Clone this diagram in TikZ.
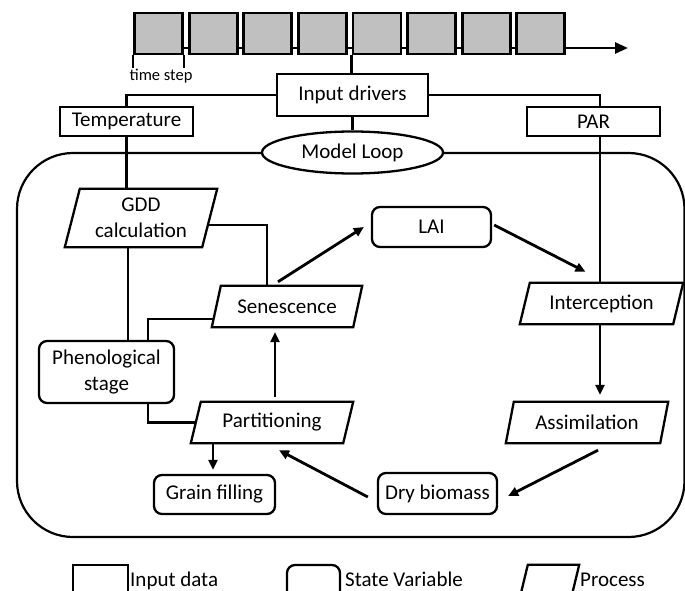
\documentclass[tikz,border=0pt]{standalone}
\usepackage{fontspec}
\setmainfont{Carlito}
\usetikzlibrary{arrows.meta,calc,shapes.geometric}
\definecolor{tgray}{RGB}{192,192,192}
\newcommand\procshape[2]{\draw[boxline] ([xshift=#2pt]#1.north west) -- (#1.north east) -- ([xshift=-#2pt]#1.south east) -- (#1.south west) -- cycle;}
\begin{document}
\begin{tikzpicture}[x=1pt,y=-1pt,
  txt/.style={font=\fontsize{21}{26.5}\selectfont},
  boxline/.style={line width=2.3pt,line join=miter},
  inbox/.style={txt,draw,line width=2.3pt,inner sep=0pt},
  statebox/.style={txt,draw,line width=2.3pt,inner sep=0pt,rounded corners=8pt},
  procbox/.style={txt,inner sep=0pt,align=center},
  tbox/.style={draw,line width=2.8pt,fill=tgray,minimum width=48pt,minimum height=41pt,inner sep=0pt},
  conn/.style={line width=2.3pt},
  arr/.style={line width=2.8pt,-{Triangle[length=10pt,width=9pt]}},
]
\useasboundingbox (0,0) rectangle (685,591);
\clip (0,0) rectangle (685,591);

% main loop frame
\draw[line width=2.2pt,rounded corners=56pt] (17,153) rectangle (684.5,537);

% time steps
\foreach \i [evaluate=\i as \cx using 158.5+54.6*(\i-1)] in {1,...,8}
  \node[tbox] (tb\i) at (\cx,33.5) {};
\foreach \i [evaluate=\i as \j using int(\i+1)] in {1,...,7}
  \draw[conn] ([yshift=-14.5pt]tb\i.east) -- ([yshift=-14.5pt]tb\j.west);
\coordinate (tend) at (628,48);
\draw[line width=2.6pt,-{Triangle[length=13pt,width=11pt]}] ([yshift=-14.5pt]tb8.east) -- (tend);
\node[font=\fontsize{16.5}{18}\selectfont,inner sep=0pt] (tstep) at (161,76) {time step};
\draw[line width=1.3pt] (tb1.south west) -- ++(0,13);
\draw[line width=1.3pt] (tb1.south east) -- ++(0,13);

% inputs
\node[inbox,minimum width=151pt,minimum height=42pt] (indr) at (352.5,95) {Input drivers};
\node[inbox,minimum width=133pt,minimum height=29pt] (temp) at (126.5,121.5) {Temperature};
\node[inbox,minimum width=133pt,minimum height=29pt] (par) at (593.5,121.5) {PAR};
\node[txt,draw,fill=white,line width=2.3pt,ellipse,minimum width=181pt,minimum height=42pt,inner sep=0pt] (loop) at (352.5,152.5) {Model Loop};

\draw[conn] (tb5.south west) -- (tb5.south west |- indr.north);
\draw[conn] (indr.west) -| (temp.north);
\draw[conn] (indr.east) -| ([xshift=6.5pt]par.north);
\draw[conn] (indr.south) -- (loop.north);

% processes
\node[procbox,minimum width=152pt,minimum height=58pt] (gdd) at (141,218) {GDD\\calculation};
\procshape{gdd}{15}
\node[procbox,minimum width=150pt,minimum height=41pt] (sen) at (287,306.5) {Senescence};
\procshape{sen}{9}
\node[procbox,minimum width=162pt,minimum height=41pt] (part) at (272,422.5) {Partitioning};
\procshape{part}{10}
\node[procbox,minimum width=163pt,minimum height=41pt] (int) at (601.5,303.5) {Interception};
\procshape{int}{10}
\node[procbox,minimum width=162pt,minimum height=41pt] (asm) at (587,422.5) {Assimilation};
\procshape{asm}{8}

% state variables
\node[statebox,minimum width=119pt,minimum height=40pt] (lai) at (431.5,227) {LAI};
\node[statebox,minimum width=135pt,minimum height=62pt,align=center] (phen) at (106.5,372) {Phenological\\stage};
\node[statebox,minimum width=121pt,minimum height=39pt] (grain) at (214.5,494.5) {Grain filling};
\node[statebox,minimum width=119pt,minimum height=41pt] (dry) at (437.5,493.5) {Dry biomass};

% plain connectors
\draw[conn] (temp.south) -- (temp.south |- gdd.north);
\draw[conn] ([xshift=-13pt]gdd.south) -- ([xshift=-13pt]gdd.south |- phen.north);
\draw[conn] ([xshift=-9pt,yshift=-7pt]gdd.east) -| ([xshift=-20pt]sen.north);
\draw[conn] ([xshift=2pt,yshift=-12.5pt]sen.west) -| ([xshift=41.5pt]phen.north);
\draw[conn] ([xshift=41.5pt]phen.south) |- ([xshift=5pt]part.west);
\draw[conn] ([xshift=6.5pt]par.south) -- ([xshift=6.5pt]par.south |- int.north);

% arrows
\draw[arr] ([xshift=-9pt,yshift=4pt]sen.north) -- ([xshift=-7pt]lai.west);
\draw[arr] ([xshift=2pt,yshift=2pt]lai.east) -- ([xshift=-16pt,yshift=11pt]int.north);
\draw[arr] ([xshift=-1.5pt]int.south) -- ([xshift=-1.5pt,yshift=7pt]int.south |- asm.north);
\draw[arr] ([xshift=11pt,yshift=-7pt]asm.south) -- ([xshift=10pt,yshift=-2.5pt]dry.east);
\draw[arr] ([xshift=-9pt,yshift=-3.5pt]dry.west) -- ([xshift=7pt,yshift=-7pt]part.south);
\draw[arr] ([xshift=-59pt]part.south) -- ([xshift=-1.5pt,yshift=4pt]grain.north);
\draw[arr] ([xshift=3pt,yshift=5pt]part.north) -- ([xshift=-12pt,yshift=-5pt]sen.south);

% legend
\node[draw,line width=2.3pt,minimum width=55pt,minimum height=41pt,inner sep=0pt] (legin) at (100.5,585.5) {};
\node[txt,anchor=base west,inner sep=0pt] (legintxt) at (130,586) {Input data};
\node[draw,line width=2.3pt,rounded corners=8pt,minimum width=53pt,minimum height=41pt,inner sep=0pt] (legst) at (313.5,585.5) {};
\node[txt,anchor=base west,inner sep=0pt] (legsttxt) at (345,586) {State Variable};
\node[minimum width=61pt,minimum height=41pt,inner sep=0pt] (legpr) at (548.5,585.5) {};
\procshape{legpr}{10}
\node[txt,anchor=base west,inner sep=0pt] (legprtxt) at (580,586) {Process};
\end{tikzpicture}
\end{document}
